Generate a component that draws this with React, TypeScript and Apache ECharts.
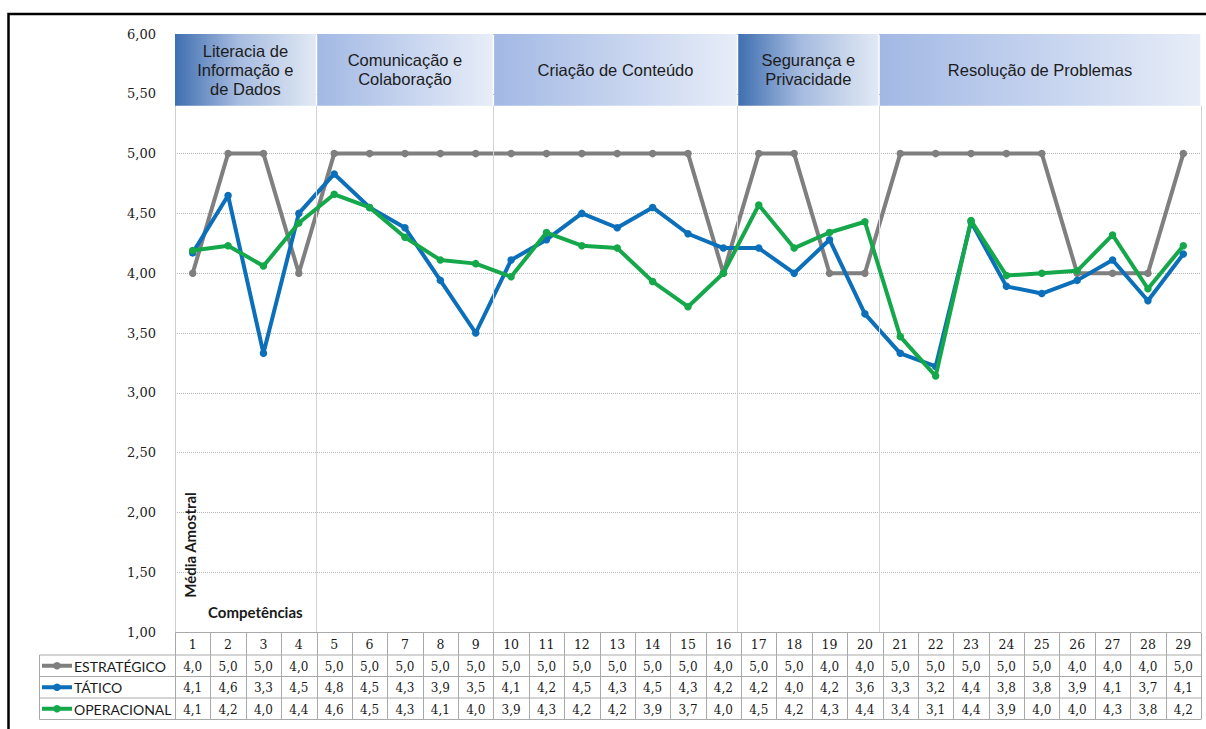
import React, { useEffect, useRef } from 'react';
import * as echarts from 'echarts';

// Competências (eixo X) e médias amostrais por nível
const categories = ['1', '2', '3', '4', '5', '6', '7', '8', '9', '10', '11', '12', '13', '14', '15', '16', '17', '18', '19', '20', '21', '22', '23', '24', '25', '26', '27', '28', '29'];
const estrategico = [4, 5, 5, 4, 5, 5, 5, 5, 5, 5, 5, 5, 5, 5, 5, 4, 5, 5, 4, 4, 5, 5, 5, 5, 5, 4, 4, 4, 5];
const tatico = [4.17, 4.65, 3.33, 4.5, 4.83, 4.55, 4.38, 3.94, 3.5, 4.11, 4.28, 4.5, 4.38, 4.55, 4.33, 4.21, 4.21, 4.0, 4.28, 3.66, 3.33, 3.22, 4.43, 3.89, 3.83, 3.94, 4.11, 3.77, 4.16];
const operacional = [4.19, 4.23, 4.06, 4.42, 4.66, 4.55, 4.3, 4.11, 4.08, 3.97, 4.34, 4.23, 4.21, 3.93, 3.72, 4.0, 4.57, 4.21, 4.34, 4.43, 3.47, 3.14, 4.44, 3.98, 4.0, 4.02, 4.32, 3.87, 4.23];

const seriesNames = ['ESTRATÉGICO', 'TÁTICO', 'OPERACIONAL'];
const seriesColors = ['#7f7f7f', '#0b6fba', '#14a84b'];

// Áreas de competência: rótulo e limites no eixo das competências
const groupLabels = ['Literacia de\nInformação e\nde Dados', 'Comunicação e\nColaboração', 'Criação de Conteúdo', 'Segurança e\nPrivacidade', 'Resolução de Problemas'];
const groupBounds = [0.5, 4.5, 9.5, 16.4, 20.4, 29.5];
const groupDark = [true, false, false, true, false];

const yTicks = { min: 1, max: 6, interval: 0.5 };
const bandBottom = 5.4;

const fmtAxis = (v: number) => v.toFixed(2).replace('.', ',');
const fmtCell = (v: number) => (Math.floor(v * 10 + 1e-6) / 10).toFixed(1).replace('.', ',');

export default function App() {
  const ref = useRef<HTMLDivElement>(null);

  useEffect(() => {
    if (!ref.current) return;
    const chart = echarts.init(ref.current, null, { renderer: 'svg' });

    const darkGrad = () =>
      new echarts.graphic.LinearGradient(0, 0, 1, 0, [
        { offset: 0, color: '#3f6fb0' },
        { offset: 0.45, color: '#a6bbe0' },
        { offset: 1, color: '#e1e9f4' },
      ]);
    const lightGrad = () =>
      new echarts.graphic.LinearGradient(0, 0, 1, 0, [
        { offset: 0, color: '#a2b8e4' },
        { offset: 1, color: '#e7edf8' },
      ]);

    const areas = groupLabels.map((label, i) => [
      {
        name: label,
        coord: [groupBounds[i] + (i === 0 ? 0 : 0.02), yTicks.max],
        itemStyle: { color: groupDark[i] ? darkGrad() : lightGrad() },
      },
      { coord: [groupBounds[i + 1] - 0.02, bandBottom] },
    ]);

    const dividers = groupBounds.slice(1).map((b) => [
      { coord: [b, yTicks.min] },
      { coord: [b, bandBottom] },
    ]);

    const lineSeries = [estrategico, tatico, operacional].map((vals, s) => ({
      type: 'line',
      name: seriesNames[s],
      data: vals.map((v, i) => [i + 1, v]),
      symbol: 'circle',
      symbolSize: 7.5,
      lineStyle: { width: 4, color: seriesColors[s] },
      itemStyle: { color: seriesColors[s] },
      z: 3 + s,
      ...(s === 0
        ? {
            markArea: {
              silent: true,
              label: {
                show: true,
                position: 'inside',
                color: '#1c1c1c',
                fontSize: 16.5,
                fontFamily: 'Liberation Sans, Arial, sans-serif',
                lineHeight: 19,
              },
              data: areas,
            },
            markLine: {
              silent: true,
              symbol: ['none', 'none'],
              label: { show: false },
              lineStyle: { color: '#d4d4d4', type: 'solid', width: 1 },
              data: dividers,
            },
          }
        : {}),
    }));

    chart.setOption({
      animation: false,
      grid: { left: 175, right: 5, top: 34, bottom: 97 },
      xAxis: {
        type: 'value',
        min: 0.5,
        max: 29.5,
        show: false,
      },
      yAxis: {
        type: 'value',
        min: yTicks.min,
        max: yTicks.max,
        interval: yTicks.interval,
        axisLine: { show: true, lineStyle: { color: '#cfcfcf', width: 1 } },
        axisTick: { show: false },
        axisLabel: {
          formatter: fmtAxis,
          color: '#222',
          fontFamily: 'DejaVu Serif, serif',
          fontSize: 13,
          margin: 19,
        },
        splitLine: { show: true, lineStyle: { color: '#b5b5b5', type: 'dotted', width: 1 } },
      },
      series: lineSeries,
    });

    const xp = (v: number) => chart.convertToPixel({ xAxisIndex: 0 }, v) as number;
    const yp = (v: number) => chart.convertToPixel({ yAxisIndex: 0 }, v) as number;

    const tableTop = Math.round(yp(yTicks.min)) + 0.5;
    const headerH = 22.5;
    const rowH = 21.5;
    const labelLeft = 39.5;
    const xLeft = xp(0.5);
    const xRight = xp(29.5);
    const tableBottom = tableTop + headerH + rowH * 3;
    const gridColor = '#a9a9a9';
    const g: any[] = [];

    // moldura
    g.push({
      type: 'rect',
      shape: { x: 8.5, y: 14, width: 1300, height: 800 },
      style: { fill: 'none', stroke: '#000', lineWidth: 2.5 },
    });

    // títulos dos eixos dentro da área do gráfico
    g.push({
      type: 'text',
      x: 190,
      y: 545,
      rotation: Math.PI / 2,
      style: {
        text: 'Média Amostral',
        font: 'bold 15px Lato, sans-serif',
        fill: '#1a1a1a',
        align: 'center',
        verticalAlign: 'middle',
      },
    });
    g.push({
      type: 'text',
      x: 208,
      y: 612,
      style: {
        text: 'Competências',
        font: 'bold 15px Lato, sans-serif',
        fill: '#1a1a1a',
        align: 'left',
        verticalAlign: 'middle',
      },
    });

    // tabela de dados: linhas horizontais
    g.push({
      type: 'line',
      shape: { x1: xLeft, y1: tableTop, x2: xRight, y2: tableTop },
      style: { stroke: gridColor, lineWidth: 1 },
    });
    for (let r = 0; r <= 3; r++) {
      const y = tableTop + headerH + rowH * r;
      g.push({
        type: 'line',
        shape: { x1: labelLeft, y1: y, x2: xRight, y2: y },
        style: { stroke: gridColor, lineWidth: 1 },
      });
    }
    // linhas verticais
    g.push({
      type: 'line',
      shape: { x1: labelLeft, y1: tableTop + headerH, x2: labelLeft, y2: tableBottom },
      style: { stroke: gridColor, lineWidth: 1 },
    });
    for (let k = 0; k <= categories.length; k++) {
      const x = Math.round(xp(k + 0.5)) + 0.5;
      g.push({
        type: 'line',
        shape: { x1: x, y1: tableTop, x2: x, y2: tableBottom },
        style: { stroke: gridColor, lineWidth: 1 },
      });
    }
    // cabeçalho das competências
    categories.forEach((c, i) => {
      g.push({
        type: 'text',
        x: xp(i + 1),
        y: tableTop + headerH / 2 + 1,
        style: {
          text: c,
          font: '12.5px DejaVu Serif, serif',
          fill: '#1a1a1a',
          align: 'center',
          verticalAlign: 'middle',
        },
      });
    });
    // linhas de valores com a legenda
    [estrategico, tatico, operacional].forEach((vals, s) => {
      const cy = tableTop + headerH + rowH * s + rowH / 2;
      g.push({
        type: 'line',
        shape: { x1: 42, y1: cy, x2: 72, y2: cy },
        style: { stroke: seriesColors[s], lineWidth: 4 },
      });
      g.push({
        type: 'circle',
        shape: { cx: 57, cy, r: 3.8 },
        style: { fill: seriesColors[s] },
      });
      g.push({
        type: 'text',
        x: 74,
        y: cy + 0.5,
        style: {
          text: seriesNames[s],
          font: '14px Lato, sans-serif',
          fill: '#1a1a1a',
          align: 'left',
          verticalAlign: 'middle',
        },
      });
      vals.forEach((v, i) => {
        g.push({
          type: 'text',
          x: xp(i + 1),
          y: cy + 1,
          style: {
            text: fmtCell(v),
            font: '12px DejaVu Serif, serif',
            fill: '#1a1a1a',
            align: 'center',
            verticalAlign: 'middle',
          },
        });
      });
    });

    chart.setOption({ graphic: g });

    return () => chart.dispose();
  }, []);

  return (
    <div
      ref={ref}
      style={{ position: 'absolute', left: 0, top: 0, width: 1206, height: 729, background: '#fff' }}
    />
  );
}
